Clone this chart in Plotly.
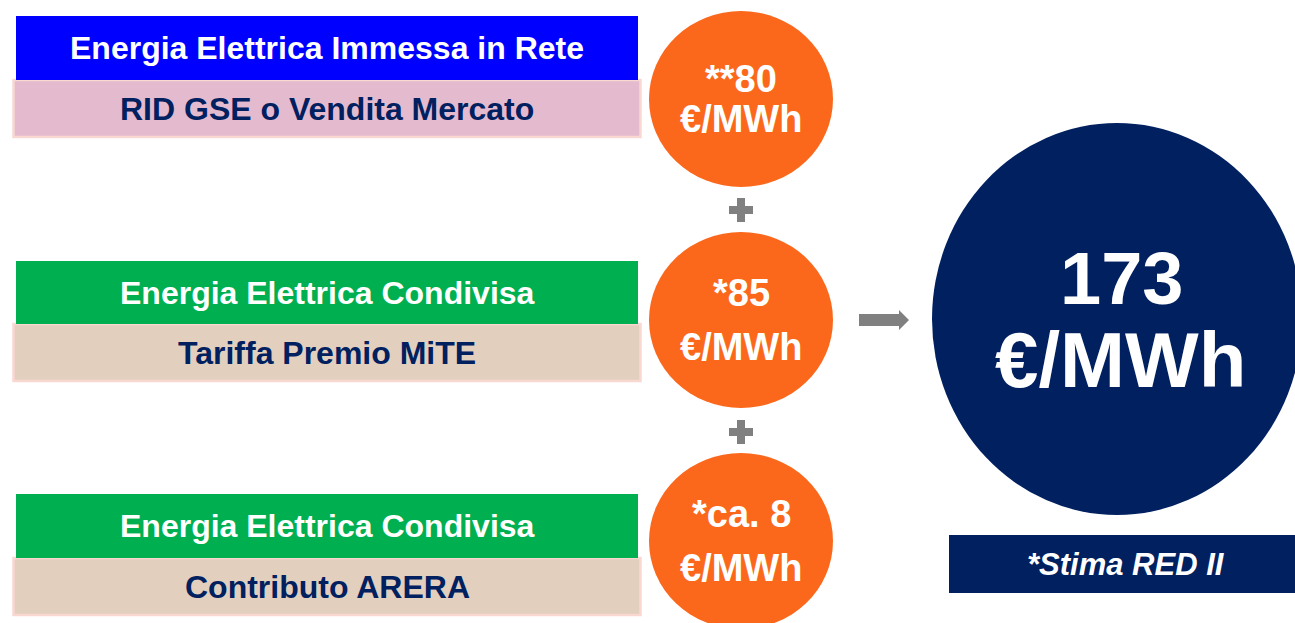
import plotly.graph_objects as go

# ---- data ----
headers = ["Energia Elettrica Immessa in Rete", "Energia Elettrica Condivisa", "Energia Elettrica Condivisa"]
subtitles = ["RID GSE o Vendita Mercato", "Tariffa Premio MiTE", "Contributo ARERA"]
values = [80, 85, 8]
prefixes = ["**", "*", "*ca. "]
unit = "€/MWh"
total = 173
note = "*Stima RED II"

# ---- layout / style ----
W, H = 1295, 623
FONT = "Liberation Sans, Arial, sans-serif"
header_colors = ["#0000FF", "#00B050", "#00B050"]
sub_colors = ["#E4BBCE", "#E2CFBE", "#E2CFBE"]
sub_border = "#FAD8D2"
navy = "#002060"
orange = "#FB681C"
gray = "#808080"

rows_y = [(16, 80, 137), (261, 324, 381), (494, 558, 615)]  # header top, split, sub bottom
circle_cy = [99, 320, 541]
circle_cx, circle_r = 741, 92
circle_ry = 88
line_gap = [20, 27, 27]

fig = go.Figure()
shapes = []
annotations = []

for i in range(3):
    top, mid, bot = rows_y[i]
    shapes.append(dict(type="rect", x0=13.5, x1=640.5, y0=mid, y1=bot,
                       fillcolor=sub_colors[i], line=dict(color=sub_border, width=2.5), layer="above"))
    shapes.append(dict(type="rect", x0=16, x1=638, y0=top, y1=mid,
                       fillcolor=header_colors[i], line=dict(width=0), layer="above"))
    annotations.append(dict(x=327, y=(top + mid) / 2, text="<b>%s</b>" % headers[i],
                            font=dict(family=FONT, size=32, color="white")))
    annotations.append(dict(x=327, y=(mid + bot) / 2, text="<b>%s</b>" % subtitles[i],
                            font=dict(family=FONT, size=32, color=navy)))
    cy = circle_cy[i]
    shapes.append(dict(type="circle", x0=circle_cx - circle_r, x1=circle_cx + circle_r,
                       y0=cy - circle_ry, y1=cy + circle_ry, fillcolor=orange, line=dict(width=0), layer="above"))
    annotations.append(dict(x=circle_cx, y=cy - line_gap[i], text="<b>%s%d</b>" % (prefixes[i], values[i]),
                            font=dict(family=FONT, size=38, color="white")))
    annotations.append(dict(x=circle_cx, y=cy + line_gap[i], text="<b>%s</b>" % unit,
                            font=dict(family=FONT, size=38, color="white")))

# plus signs
for py in [210, 432]:
    px = circle_cx
    shapes.append(dict(type="path",
                       path=("M {a},{b} H {c} V {d} H {e} V {f} H {c} V {g} H {a} V {f} H {h} V {d} H {a} Z").format(
                           a=px - 4, c=px + 4, b=py - 12, d=py - 4, e=px + 12, f=py + 4, g=py + 12, h=px - 12),
                       fillcolor=gray, line=dict(width=0), layer="above"))

# arrow
shapes.append(dict(type="path",
                   path="M 859,314 H 899 V 310 L 909,320 L 899,330 V 326 H 859 Z",
                   fillcolor=gray, line=dict(width=0), layer="above"))

# total circle
shapes.append(dict(type="circle", x0=932, x1=1302, y0=123, y1=515, fillcolor=navy,
                   line=dict(width=0), layer="above"))
annotations.append(dict(x=1121, y=278, text="<b>%d</b>" % total,
                        font=dict(family=FONT, size=74, color="white")))
annotations.append(dict(x=1120, y=360, text="<b>%s</b>" % unit,
                        font=dict(family=FONT, size=78, color="white")))

# note box
shapes.append(dict(type="rect", x0=949, x1=1300, y0=535, y1=593, fillcolor=navy,
                   line=dict(width=0), layer="above"))
annotations.append(dict(x=1126, y=564, text="<b><i>%s</i></b>" % note,
                        font=dict(family=FONT, size=31, color="white")))

for a in annotations:
    a.update(xref="x", yref="y", showarrow=False, xanchor="center", yanchor="middle")

fig.update_layout(
    width=W, height=H, autosize=False,
    margin=dict(l=0, r=0, t=0, b=0),
    paper_bgcolor="white", plot_bgcolor="white",
    xaxis=dict(range=[0, W], visible=False, fixedrange=True),
    yaxis=dict(range=[H, 0], visible=False, fixedrange=True),
    shapes=shapes, annotations=annotations, showlegend=False,
)

fig.write_html("out.html", config={"displayModeBar": False},
               post_script="document.body.style.margin='0';document.body.style.overflow='hidden';")
